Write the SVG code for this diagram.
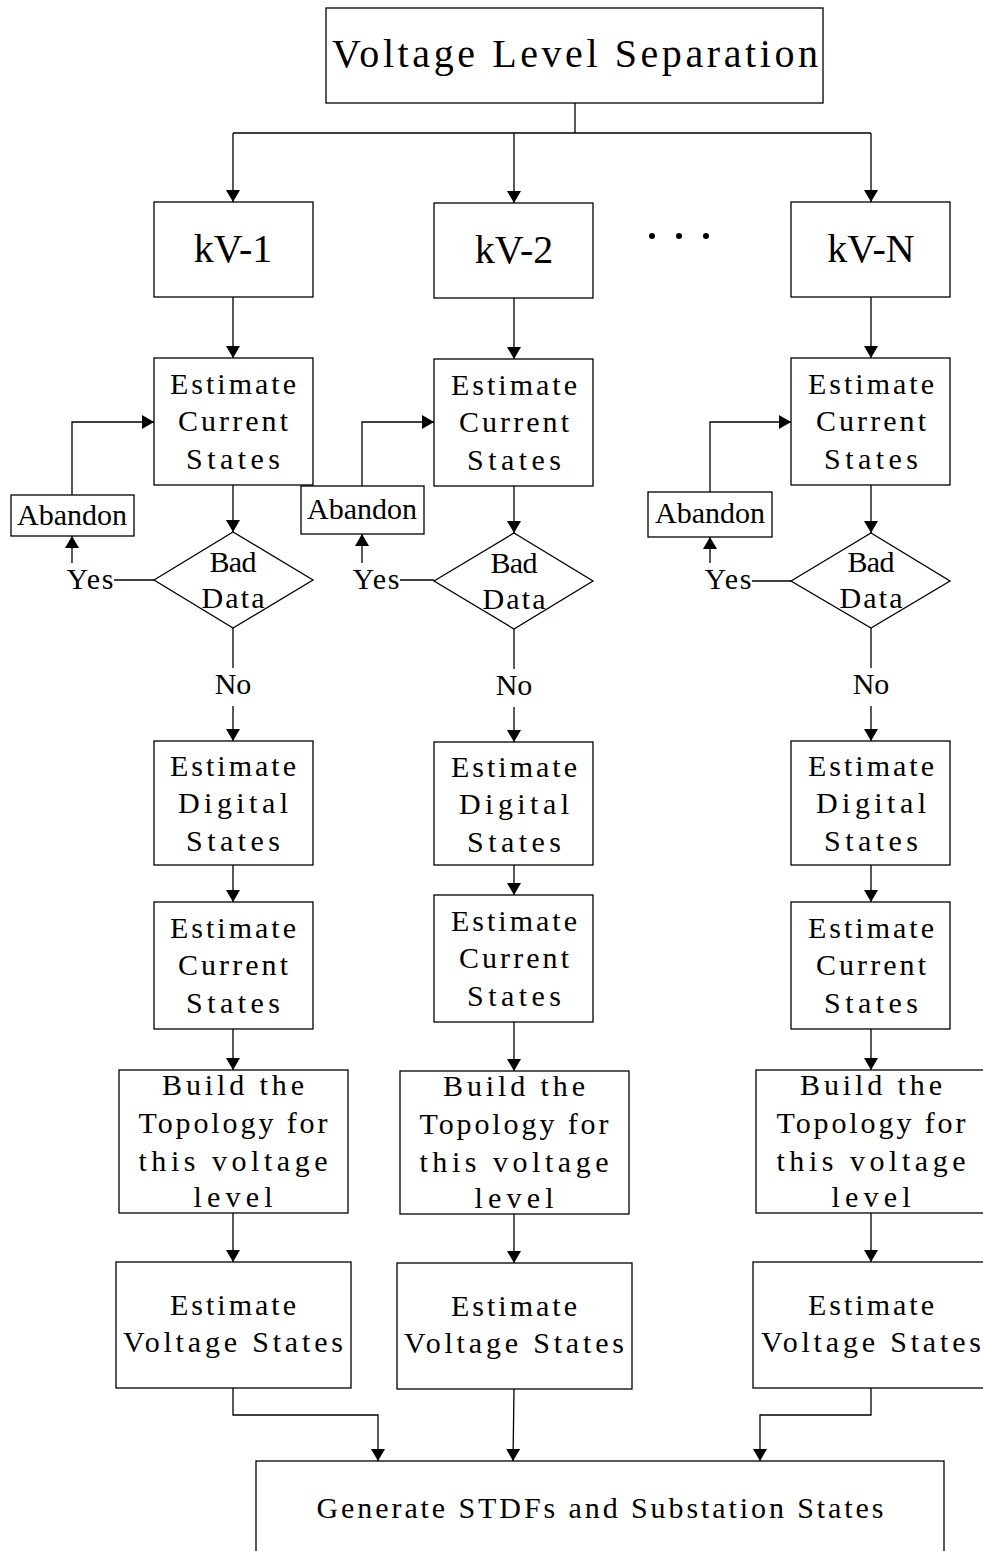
<svg xmlns="http://www.w3.org/2000/svg" width="983" height="1551" viewBox="0 0 983 1551">
  <style>
    .box { fill: #fff; stroke: #000; stroke-width: 1.3; }
    .ln { fill: none; stroke: #000; stroke-width: 1.3; }
    .arr { fill: none; stroke: #000; stroke-width: 1.3; marker-end: url(#ah); }
    text { font-family: "Liberation Serif", "Times New Roman", serif; font-size: 30px; fill: #000; text-anchor: middle; }
    .big { font-size: 40px; }
  </style>
  <defs>
    <marker id="ah" viewBox="0 0 12 14" refX="12" refY="7" markerWidth="12" markerHeight="14" markerUnits="userSpaceOnUse" orient="auto">
      <path d="M0,0 L12,7 L0,14 Z" fill="#000"/>
    </marker>
  </defs>

  <!-- connectors -->
  <g id="connectors">
    <path class="ln" d="M575,103 V133 M233,133 H871"/>
    <path class="arr" d="M233,133 V202"/>
    <path class="arr" d="M514,133 V203"/>
    <path class="arr" d="M871,133 V202"/>

    <!-- column 1 -->
    <path class="arr" d="M233,297 V358"/>
    <path class="arr" d="M233,485 V532"/>
    <path class="arr" d="M72,495 V422 H154"/>
    <path class="ln" d="M114,580 H154"/>
    <path class="arr" d="M72,563 V536"/>
    <path class="ln" d="M233,628 V668"/>
    <path class="arr" d="M233,706 V741"/>
    <path class="arr" d="M233,865 V902"/>
    <path class="arr" d="M233,1029 V1070"/>
    <path class="arr" d="M233,1213 V1262"/>
    <path class="arr" d="M233,1388 V1415 H378 V1461"/>

    <!-- column 2 -->
    <path class="arr" d="M514,298 V359"/>
    <path class="arr" d="M514,486 V533"/>
    <path class="arr" d="M362,486 V422 H434"/>
    <path class="ln" d="M400,580 H434"/>
    <path class="arr" d="M362,563 V534"/>
    <path class="ln" d="M514,629 V669"/>
    <path class="arr" d="M514,707 V742"/>
    <path class="arr" d="M514,865 V895"/>
    <path class="arr" d="M514,1022 V1071"/>
    <path class="arr" d="M514,1214 V1263"/>
    <path class="arr" d="M514,1389 L513,1461"/>

    <!-- column N -->
    <path class="arr" d="M871,297 V358"/>
    <path class="arr" d="M871,485 V533"/>
    <path class="arr" d="M710,492 V422 H791"/>
    <path class="ln" d="M752,581 H791"/>
    <path class="arr" d="M710,563 V537"/>
    <path class="ln" d="M871,628 V668"/>
    <path class="arr" d="M871,706 V741"/>
    <path class="arr" d="M871,865 V902"/>
    <path class="arr" d="M871,1029 V1070"/>
    <path class="arr" d="M871,1213 V1262"/>
    <path class="arr" d="M871,1388 V1415 H760 V1461"/>
  </g>

  <g id="separation">
    <rect class="box" x="326" y="8" width="497" height="95"/>
    <text class="big" x="575" y="67" textLength="486" lengthAdjust="spacing">Voltage Level Separation</text>
  </g>

  <g id="ellipsis">
    <circle cx="652" cy="236" r="3"/>
    <circle cx="679" cy="236" r="3"/>
    <circle cx="706" cy="236" r="3"/>
  </g>

  <!-- column 1 -->
  <g id="kv1">
    <rect class="box" x="154" y="202" width="159" height="95"/>
    <text class="big" x="233" y="262">kV-1</text>
  </g>
  <g id="kv1-current">
    <rect class="box" x="154" y="358" width="159" height="127"/>
    <text x="233" y="394" textLength="126" lengthAdjust="spacing">Estimate</text>
    <text x="233" y="431" textLength="110" lengthAdjust="spacing">Current</text>
    <text x="233" y="469" textLength="94" lengthAdjust="spacing">States</text>
  </g>
  <g id="kv1-abandon">
    <rect class="box" x="11" y="495" width="123" height="41"/>
    <text x="72" y="525" textLength="110" lengthAdjust="spacing">Abandon</text>
  </g>
  <g id="kv1-bad">
    <path class="box" d="M154,580 L233,532 L313,580 L233,628 Z"/>
    <text x="233" y="572" textLength="47" lengthAdjust="spacing">Bad</text>
    <text x="233" y="608" textLength="63" lengthAdjust="spacing">Data</text>
  </g>
  <g id="kv1-yes"><text x="90" y="589" textLength="47" lengthAdjust="spacing">Yes</text></g>
  <g id="kv1-no"><text x="233" y="694">No</text></g>
  <g id="kv1-digital">
    <rect class="box" x="154" y="741" width="159" height="124"/>
    <text x="233" y="776" textLength="126" lengthAdjust="spacing">Estimate</text>
    <text x="233" y="813" textLength="110" lengthAdjust="spacing">Digital</text>
    <text x="233" y="851" textLength="94" lengthAdjust="spacing">States</text>
  </g>
  <g id="kv1-current2">
    <rect class="box" x="154" y="902" width="159" height="127"/>
    <text x="233" y="938" textLength="126" lengthAdjust="spacing">Estimate</text>
    <text x="233" y="975" textLength="110" lengthAdjust="spacing">Current</text>
    <text x="233" y="1013" textLength="94" lengthAdjust="spacing">States</text>
  </g>
  <g id="kv1-topology">
    <rect class="box" x="119" y="1070" width="229" height="143"/>
    <text x="233" y="1095" textLength="142" lengthAdjust="spacing">Build the</text>
    <text x="233" y="1133" textLength="189" lengthAdjust="spacing">Topology for</text>
    <text x="233" y="1171" textLength="189" lengthAdjust="spacing">this voltage</text>
    <text x="233" y="1207" textLength="79" lengthAdjust="spacing">level</text>
  </g>
  <g id="kv1-voltage">
    <rect class="box" x="116" y="1262" width="235" height="126"/>
    <text x="233" y="1315" textLength="126" lengthAdjust="spacing">Estimate</text>
    <text x="233" y="1352" textLength="220" lengthAdjust="spacing">Voltage States</text>
  </g>

  <!-- column 2 -->
  <g id="kv2">
    <rect class="box" x="434" y="203" width="159" height="95"/>
    <text class="big" x="514" y="263">kV-2</text>
  </g>
  <g id="kv2-current">
    <rect class="box" x="434" y="359" width="159" height="127"/>
    <text x="514" y="395" textLength="126" lengthAdjust="spacing">Estimate</text>
    <text x="514" y="432" textLength="110" lengthAdjust="spacing">Current</text>
    <text x="514" y="470" textLength="94" lengthAdjust="spacing">States</text>
  </g>
  <g id="kv2-abandon">
    <rect class="box" x="301" y="486" width="123" height="48"/>
    <text x="362" y="519" textLength="110" lengthAdjust="spacing">Abandon</text>
  </g>
  <g id="kv2-bad">
    <path class="box" d="M434,581 L514,533 L593,581 L514,629 Z"/>
    <text x="514" y="573" textLength="47" lengthAdjust="spacing">Bad</text>
    <text x="514" y="609" textLength="63" lengthAdjust="spacing">Data</text>
  </g>
  <g id="kv2-yes"><text x="376" y="589" textLength="47" lengthAdjust="spacing">Yes</text></g>
  <g id="kv2-no"><text x="514" y="695">No</text></g>
  <g id="kv2-digital">
    <rect class="box" x="434" y="742" width="159" height="123"/>
    <text x="514" y="777" textLength="126" lengthAdjust="spacing">Estimate</text>
    <text x="514" y="814" textLength="110" lengthAdjust="spacing">Digital</text>
    <text x="514" y="852" textLength="94" lengthAdjust="spacing">States</text>
  </g>
  <g id="kv2-current2">
    <rect class="box" x="434" y="895" width="159" height="127"/>
    <text x="514" y="931" textLength="126" lengthAdjust="spacing">Estimate</text>
    <text x="514" y="968" textLength="110" lengthAdjust="spacing">Current</text>
    <text x="514" y="1006" textLength="94" lengthAdjust="spacing">States</text>
  </g>
  <g id="kv2-topology">
    <rect class="box" x="400" y="1071" width="229" height="143"/>
    <text x="514" y="1096" textLength="142" lengthAdjust="spacing">Build the</text>
    <text x="514" y="1134" textLength="189" lengthAdjust="spacing">Topology for</text>
    <text x="514" y="1172" textLength="189" lengthAdjust="spacing">this voltage</text>
    <text x="514" y="1208" textLength="79" lengthAdjust="spacing">level</text>
  </g>
  <g id="kv2-voltage">
    <rect class="box" x="397" y="1263" width="235" height="126"/>
    <text x="514" y="1316" textLength="126" lengthAdjust="spacing">Estimate</text>
    <text x="514" y="1353" textLength="220" lengthAdjust="spacing">Voltage States</text>
  </g>

  <!-- column N -->
  <g id="kvn">
    <rect class="box" x="791" y="202" width="159" height="95"/>
    <text class="big" x="871" y="262">kV-N</text>
  </g>
  <g id="kvn-current">
    <rect class="box" x="791" y="358" width="159" height="127"/>
    <text x="871" y="394" textLength="126" lengthAdjust="spacing">Estimate</text>
    <text x="871" y="431" textLength="110" lengthAdjust="spacing">Current</text>
    <text x="871" y="469" textLength="94" lengthAdjust="spacing">States</text>
  </g>
  <g id="kvn-abandon">
    <rect class="box" x="648" y="492" width="124" height="45"/>
    <text x="710" y="523" textLength="110" lengthAdjust="spacing">Abandon</text>
  </g>
  <g id="kvn-bad">
    <path class="box" d="M791,581 L871,533 L950,581 L871,628 Z"/>
    <text x="871" y="572" textLength="47" lengthAdjust="spacing">Bad</text>
    <text x="871" y="608" textLength="63" lengthAdjust="spacing">Data</text>
  </g>
  <g id="kvn-yes"><text x="728" y="589" textLength="47" lengthAdjust="spacing">Yes</text></g>
  <g id="kvn-no"><text x="871" y="694">No</text></g>
  <g id="kvn-digital">
    <rect class="box" x="791" y="741" width="159" height="124"/>
    <text x="871" y="776" textLength="126" lengthAdjust="spacing">Estimate</text>
    <text x="871" y="813" textLength="110" lengthAdjust="spacing">Digital</text>
    <text x="871" y="851" textLength="94" lengthAdjust="spacing">States</text>
  </g>
  <g id="kvn-current2">
    <rect class="box" x="791" y="902" width="159" height="127"/>
    <text x="871" y="938" textLength="126" lengthAdjust="spacing">Estimate</text>
    <text x="871" y="975" textLength="110" lengthAdjust="spacing">Current</text>
    <text x="871" y="1013" textLength="94" lengthAdjust="spacing">States</text>
  </g>
  <g id="kvn-topology">
    <rect class="box" x="756" y="1070" width="230" height="143"/>
    <text x="871" y="1095" textLength="142" lengthAdjust="spacing">Build the</text>
    <text x="871" y="1133" textLength="189" lengthAdjust="spacing">Topology for</text>
    <text x="871" y="1171" textLength="189" lengthAdjust="spacing">this voltage</text>
    <text x="871" y="1207" textLength="79" lengthAdjust="spacing">level</text>
  </g>
  <g id="kvn-voltage">
    <rect class="box" x="753" y="1262" width="236" height="126"/>
    <text x="871" y="1315" textLength="126" lengthAdjust="spacing">Estimate</text>
    <text x="871" y="1352" textLength="220" lengthAdjust="spacing">Voltage States</text>
  </g>

  <g id="generate">
    <rect class="box" x="256" y="1461" width="688" height="120"/>
    <text x="600" y="1518" textLength="567" lengthAdjust="spacing">Generate STDFs and Substation States</text>
  </g>
</svg>
